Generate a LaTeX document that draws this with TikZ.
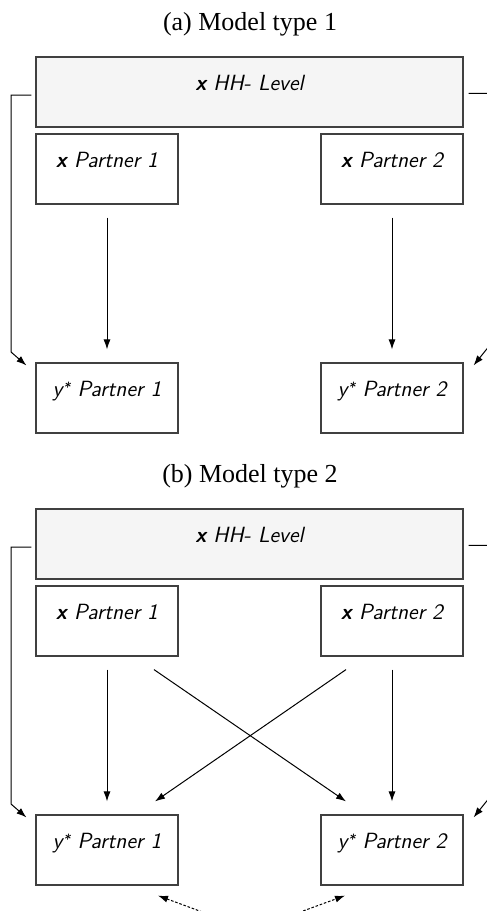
\documentclass[tikz,border=0pt]{standalone}
\usepackage{fontspec}
\newfontfamily\titlefont{Liberation Serif}
\usetikzlibrary{arrows.meta,calc}
\newcommand{\ystar}{y\kern0.2pt\raisebox{2pt}{\fontsize{7}{8}\selectfont *}}
\begin{document}
\begin{tikzpicture}[x=0.5pt,y=-0.5pt,
  box/.style={draw=black!75, line width=0.6pt, minimum width=71pt, minimum height=35pt,
    inner xsep=0pt, inner ysep=0pt, text height=16.5pt, text depth=18.5pt,
    font=\fontsize{11}{13}\selectfont\sffamily\itshape},
  hhbox/.style={box, minimum width=213.5pt, fill=gray!8},
  ttl/.style={font=\fontsize{13}{15}\selectfont\titlefont, anchor=base, inner sep=0pt},
  arr/.style={-{Latex[length=5pt,width=3.5pt]}, line width=0.5pt},
  dots/.style={{Latex[length=5pt,width=3.5pt]}-{Latex[length=5pt,width=3.5pt]}, line width=0.5pt, dash pattern=on 1.3pt off 0.9pt}
]
\clip (0,0) rectangle (487,911);
% ---------- (a) ----------
\node[ttl] (ta) at (250,30.5) {(a) Model type 1};
\node[hhbox] (hha) at (249.5,92) {\textbf{x} HH- Level};
\node[box] (p1a) at (107,169) {\textbf{x} Partner 1};
\node[box] (p2a) at (392,169) {\textbf{x} Partner 2};
\node[box] (y1a) at (107,398) {\ystar{} Partner 1};
\node[box] (y2a) at (392,398) {\ystar{} Partner 2};
\draw[arr] ([yshift=-6.5pt]p1a.south) -- ([yshift=6.5pt]y1a.north);
\draw[arr] ([yshift=-6.5pt]p2a.south) -- ([yshift=6.5pt]y2a.north);
\coordinate (la1) at (11,352);
\coordinate (ra1) at (490,345);
\draw[arr] ([xshift=-2pt,yshift=-1.5pt]hha.west) -| (la1) -- ([xshift=-4.5pt,yshift=-1.5pt]y1a.north west);
\draw[arr] ([xshift=2.5pt,yshift=-0.7pt]hha.east) -| (ra1) -- ([xshift=5pt,yshift=-1.5pt]y2a.north east);
% ---------- (b) ----------
\node[ttl] (tb) at (250,482.5) {(b) Model type 2};
\node[hhbox] (hhb) at (249.5,544) {\textbf{x} HH- Level};
\node[box] (p1b) at (107,621) {\textbf{x} Partner 1};
\node[box] (p2b) at (392,621) {\textbf{x} Partner 2};
\node[box] (y1b) at (107,850) {\ystar{} Partner 1};
\node[box] (y2b) at (392,850) {\ystar{} Partner 2};
\draw[arr] ([yshift=-6.5pt]p1b.south) -- ([yshift=6.5pt]y1b.north);
\draw[arr] ([yshift=-6.5pt]p2b.south) -- ([yshift=6.5pt]y2b.north);
\draw[arr] ([xshift=23.5pt,yshift=-6.5pt]p1b.south) -- ([xshift=-23pt,yshift=6.5pt]y2b.north);
\draw[arr] ([xshift=-23pt,yshift=-6.5pt]p2b.south) -- ([xshift=24pt,yshift=6.5pt]y1b.north);
\coordinate (la2) at (11,804);
\coordinate (ra2) at (490,797);
\draw[arr] ([xshift=-2pt,yshift=-1.5pt]hhb.west) -| (la2) -- ([xshift=-4.5pt,yshift=-1.5pt]y1b.north west);
\draw[arr] ([xshift=2.5pt,yshift=-0.7pt]hhb.east) -| (ra2) -- ([xshift=5pt,yshift=-1.5pt]y2b.north east);
\coordinate (db) at (251,930);
\draw[dots] ([xshift=25.5pt,yshift=-5pt]y1b.south) -- (db) -- ([xshift=-23.5pt,yshift=-5pt]y2b.south);
\end{tikzpicture}
\end{document}
